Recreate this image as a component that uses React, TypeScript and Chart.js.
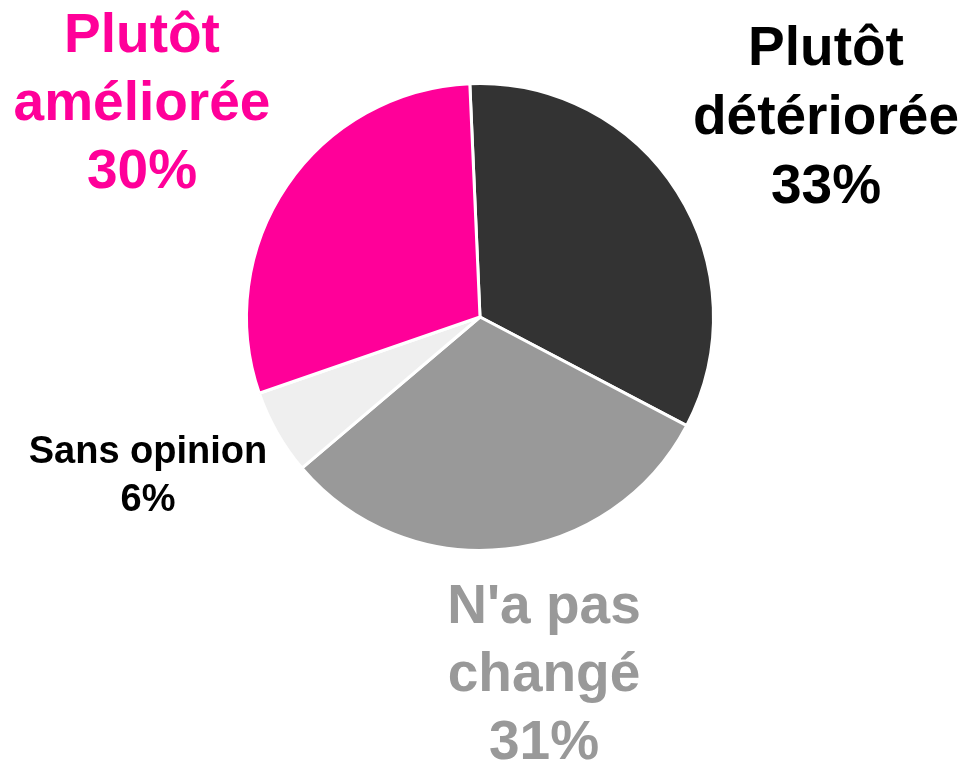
import React, { useEffect, useRef } from "react";
import { Chart, registerables } from "chart.js";

Chart.register(...registerables);

const categories = ["Plutôt détériorée", "N'a pas changé", "Sans opinion", "Plutôt améliorée"];
// slice sizes (labels show rounded percentages)
const values = [33.4, 31.1, 5.9, 29.6];
const percentLabels = ["33%", "31%", "6%", "30%"];
const sliceColors = ["#333333", "#999999", "#efefef", "#ff0099"];
const nameLines = [
  ["Plutôt", "détériorée"],
  ["N'a pas", "changé"],
  ["Sans opinion"],
  ["Plutôt", "améliorée"],
];
const labelColors = ["#000000", "#999999", "#000000", "#ff0099"];
const labelFontSizes = [55, 55, 38, 55];
const labelLineHeights = [69, 68, 48, 68];
// offset of first baseline relative to pie center
const labelOffsets = [
  [346, -252],
  [64, 306],
  [-332, 146],
  [-338, -265],
];

const labelPlugin = {
  id: "outerLabels",
  afterDraw(chart: any) {
    const meta = chart.getDatasetMeta(0);
    const ctx = chart.ctx;
    ctx.save();
    ctx.textAlign = "center";
    ctx.textBaseline = "alphabetic";
    meta.data.forEach((arc: any, i: number) => {
      const cx = arc.x;
      const cy = arc.y;
      const [dx, dy] = labelOffsets[i];
      ctx.fillStyle = labelColors[i];
      ctx.font = `bold ${labelFontSizes[i]}px "Liberation Sans", Arial, sans-serif`;
      const lines = [...nameLines[i], percentLabels[i]];
      lines.forEach((line, j) => {
        ctx.fillText(line, cx + dx, cy + dy + j * labelLineHeights[i]);
      });
    });
    ctx.restore();
  },
};

export default function App() {
  const ref = useRef<HTMLCanvasElement | null>(null);
  useEffect(() => {
    if (!ref.current) return;
    const chart = new Chart(ref.current, {
      type: "pie",
      data: {
        labels: categories,
        datasets: [
          {
            data: values,
            backgroundColor: sliceColors,
            borderColor: "#ffffff",
            borderWidth: 3,
          },
        ],
      },
      options: {
        responsive: false,
        animation: false,
        rotation: -2.5,
        layout: { padding: { left: 245, right: 250, top: 82, bottom: 214 } },
        plugins: {
          legend: { display: false },
          tooltip: { enabled: false },
          title: { display: false },
        },
      },
      plugins: [labelPlugin],
    });
    return () => chart.destroy();
  }, []);
  return (
    <div style={{ position: "fixed", left: 0, top: 0, width: 965, height: 766, background: "#ffffff" }}>
      <canvas ref={ref} width={965} height={766} style={{ width: 965, height: 766 }} />
    </div>
  );
}
